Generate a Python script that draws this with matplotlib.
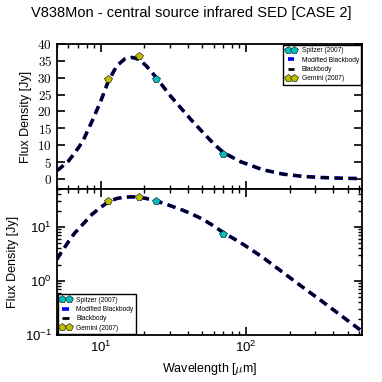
import numpy as np
import matplotlib
matplotlib.use("Agg")
from matplotlib import pyplot as plt

plt.rcParams['font.family'] = ['Liberation Sans', 'DejaVu Sans']
plt.rcParams['mathtext.fontset'] = 'cm'

# photometry
spitzer_wl = [24.0, 70.0]
spitzer_flux = [29.5, 7.5]
gemini_wl = [11.3, 18.5]
gemini_flux = [29.5, 36.4]

# fitted (modified) blackbody curve, sampled by eye from the chart
model_wl = [5.0, 5.2, 6.0, 6.6, 7.5, 8.7, 10.0, 11.3, 12.9, 14.6, 16.5, 18.5,
            20.7, 24.2, 27.0, 30.6, 36.0, 42.0, 50.0, 60.0, 70.0, 92.0, 130.0,
            180.0, 250.0, 330.0, 450.0, 630.0]
model_flux = [2.5, 3.0, 5.3, 7.6, 11.0, 17.0, 23.0, 29.0, 33.5, 35.5, 36.0, 35.4,
              33.4, 30.0, 27.3, 24.3, 20.8, 17.5, 14.0, 10.4, 7.8, 5.1, 2.75,
              1.43, 0.74, 0.43, 0.23, 0.117]

fig = plt.figure(figsize=(3.82, 3.82), dpi=100)
ax1 = fig.add_axes([0.149, 0.505, 0.799, 0.38])
ax2 = fig.add_axes([0.149, 0.123, 0.799, 0.382], sharex=ax1)


def draw(ax):
    ax.plot(spitzer_wl, spitzer_flux, 'p', color='#00bfbf', mec='k', mew=0.4,
            ms=6, label='Spitzer (2007)', zorder=3)
    ax.plot(model_wl, model_flux, '--', color='b', lw=2.6,
            dashes=(6.0 / 2.6, 4.0 / 2.6), label='Modified Blackbody', zorder=2)
    ax.plot(model_wl, model_flux, '--', color='k', lw=2.0, dashes=(3.0, 2.0),
            label='Blackbody', zorder=2.5)
    ax.plot(gemini_wl, gemini_flux, 'p', color='#bfbf00', mec='k', mew=0.4,
            ms=6, label='Gemini (2007)', zorder=3)
    for s in ax.spines.values():
        s.set_linewidth(1.3)
    ax.tick_params(which='both', direction='in', top=True, right=True)
    ax.tick_params(which='major', length=6, width=1.2, labelsize=9.5)
    ax.tick_params(which='minor', length=3, width=1.0)
    ax.set_ylabel('Flux Density [Jy]', fontsize=9)


draw(ax1)
draw(ax2)

ax1.set_xscale('log')
ax1.set_xlim(5, 630)
ax1.set_ylim(-3, 40)
ax1.set_yticks(range(0, 41, 5))
ax1.set_yticklabels(['$%d$' % v for v in range(0, 41, 5)])
plt.setp(ax1.get_xticklabels(), visible=False)

ax2.set_yscale('log')
ax2.set_ylim(0.1, 50)
ax2.set_xlabel(r'Wavelength [$\mu$m]', fontsize=9)

leg_kw = dict(numpoints=2, fontsize=4.8, handlelength=1.6, handletextpad=0.8,
              borderpad=0.35, labelspacing=0.35, fancybox=False, framealpha=1)
l1 = ax1.legend(loc='upper right', borderaxespad=0.15, **leg_kw)
l2 = ax2.legend(loc='lower left', borderaxespad=0.15, **leg_kw)
for lg in (l1, l2):
    lg.get_frame().set_edgecolor('k')
    lg.get_frame().set_linewidth(1.0)

fig.text(0.5, 0.965, 'V838Mon - central source infrared SED [CASE 2]',
         ha='center', va='center', fontsize=10.5)

fig.savefig('out.png', dpi=100)
